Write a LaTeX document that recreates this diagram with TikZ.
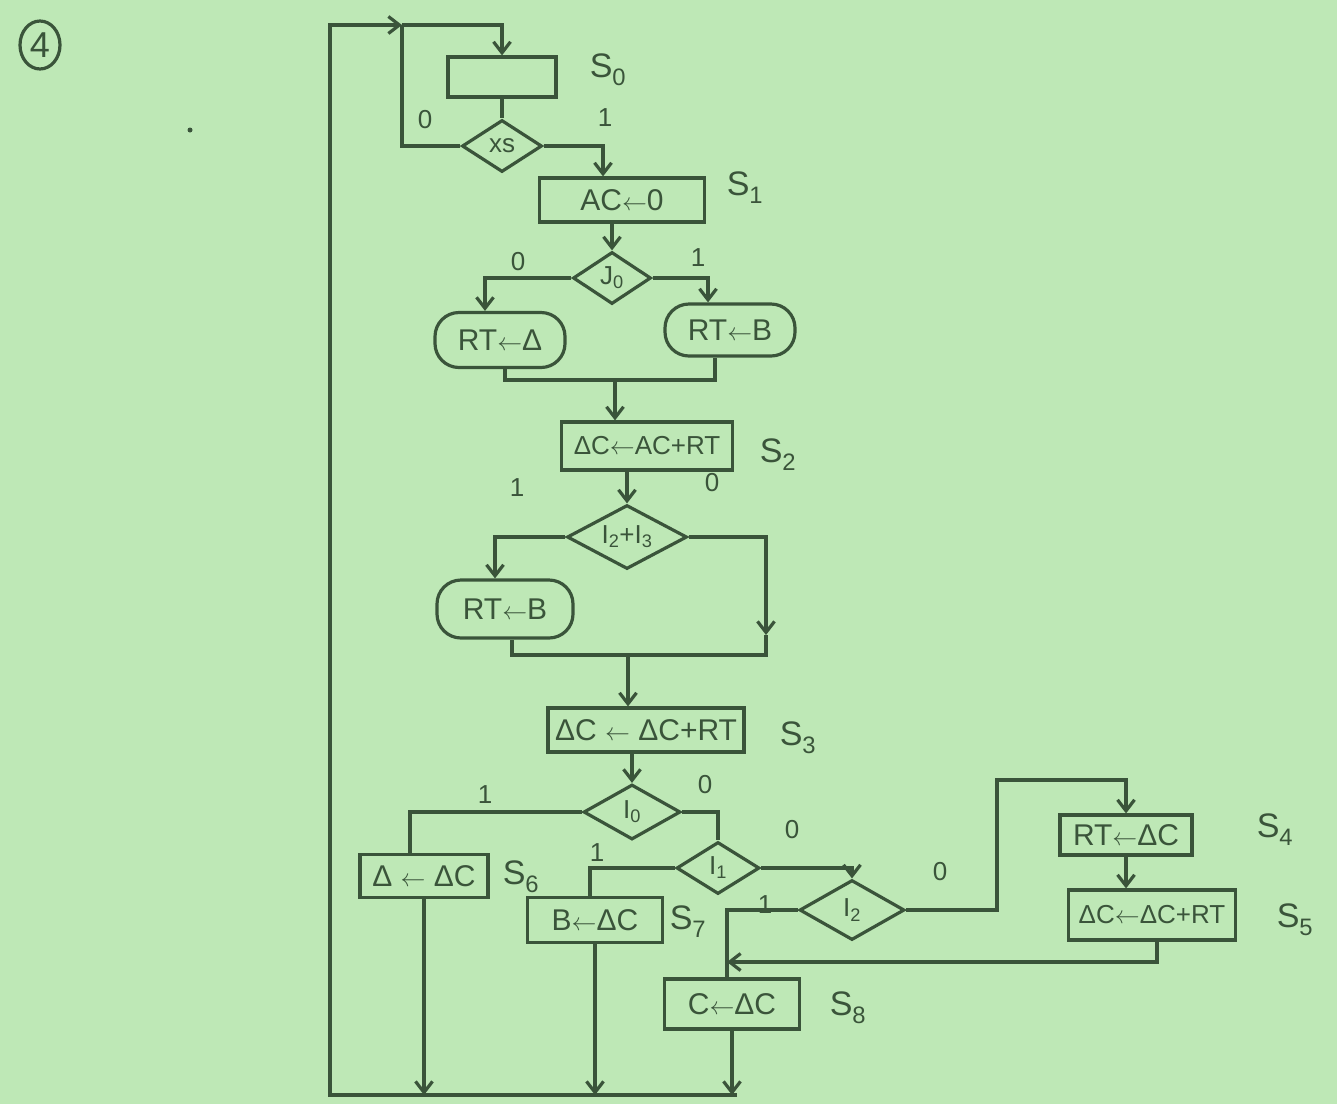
\documentclass[tikz,border=0pt]{standalone}
\usepackage{fontspec}
\setmainfont{Liberation Sans}
\usetikzlibrary{shapes.geometric,arrows.meta}
\definecolor{paper}{RGB}{190,232,182}
\definecolor{ink}{RGB}{58,84,58}
\newcommand{\asg}{$\leftarrow$}

\begin{document}
\begin{tikzpicture}[x=1pt,y=-1pt,color=ink,line width=3.2pt,
    >={Straight Barb[length=11pt,width=17pt]},
    every node/.style={font=\fontsize{30}{34}\selectfont},
    box/.style={draw,rectangle,inner sep=0pt},
    cond/.style={draw,diamond,inner sep=0pt,aspect=1.7,font=\fontsize{26}{30}\selectfont},
    oval/.style={draw,rectangle,rounded corners=24pt,inner sep=0pt},
    lbl/.style={font=\fontsize{26}{30}\selectfont},
    sname/.style={font=\fontsize{34}{38}\selectfont},
    tight/.style={font=\fontsize{26}{30}\selectfont}]
  \fill[paper] (0,0) rectangle (1337,1104);
  \useasboundingbox (0,0) rectangle (1337,1104);

  \node[draw,ellipse,minimum width=40,minimum height=48,inner sep=0pt,font=\fontsize{36}{40}\selectfont] (num) at (40,45) {4};
  \fill (190,130) circle (2.5);

  % states and conditions
  \node[box,minimum width=108,minimum height=40] (s0) at (502,77) {};
  \node[cond,minimum width=80,minimum height=52] (xs) at (502,146) {xs};
  \node[box,minimum width=165,minimum height=44] (s1) at (622,200) {AC\asg0};
  \node[cond,minimum width=78,minimum height=52] (j0) at (612,278) {J\textsubscript{0}};
  \node[oval,minimum width=130,minimum height=55] (rta) at (500,340) {RT\asg Δ};
  \node[oval,minimum width=130,minimum height=52] (rtb1) at (730,330) {RT\asg B};
  \node[box,tight,minimum width=171,minimum height=48] (s2) at (647,446) {ΔC\asg AC+RT};
  \node[cond,minimum width=120,minimum height=64] (i23) at (627,537) {I\textsubscript{2}+I\textsubscript{3}};
  \node[oval,minimum width=136,minimum height=58] (rtb2) at (505,609) {RT\asg B};
  \node[box,minimum width=196,minimum height=44] (s3) at (646,730) {ΔC \asg\ ΔC+RT};
  \node[cond,minimum width=97,minimum height=55] (i0) at (632,812) {I\textsubscript{0}};
  \node[box,minimum width=128,minimum height=43] (s6) at (424,876) {Δ \asg\ ΔC};
  \node[cond,minimum width=83,minimum height=52] (i1) at (718,868) {I\textsubscript{1}};
  \node[box,minimum width=135,minimum height=45] (s7) at (595,920) {B\asg ΔC};
  \node[cond,minimum width=105,minimum height=60] (i2) at (852,910) {I\textsubscript{2}};
  \node[box,minimum width=135,minimum height=50] (s8) at (732,1004) {C\asg ΔC};
  \node[box,minimum width=132,minimum height=40] (s4) at (1126,835) {RT\asg ΔC};
  \node[box,tight,minimum width=167,minimum height=50] (s5) at (1152,915) {ΔC\asg ΔC+RT};

  % state names
  \node[sname] (n0) at (608,70) {S\textsubscript{0}};
  \node[sname] (n1) at (745,188) {S\textsubscript{1}};
  \node[sname] (n2) at (778,455) {S\textsubscript{2}};
  \node[sname] (n3) at (798,738) {S\textsubscript{3}};
  \node[sname] (n6) at (521,877) {S\textsubscript{6}};
  \node[sname] (n7) at (688,922) {S\textsubscript{7}};
  \node[sname] (n8) at (848,1008) {S\textsubscript{8}};
  \node[sname] (n4) at (1275,830) {S\textsubscript{4}};
  \node[sname] (n5) at (1295,920) {S\textsubscript{5}};

  % branch values
  \node[lbl] (b1) at (425,120) {0};
  \node[lbl] (b2) at (605,118) {1};
  \node[lbl] (b3) at (518,262) {0};
  \node[lbl] (b4) at (698,258) {1};
  \node[lbl] (b5) at (517,488) {1};
  \node[lbl] (b6) at (712,483) {0};
  \node[lbl] (b7) at (485,795) {1};
  \node[lbl] (b8) at (705,785) {0};
  \node[lbl] (b9) at (597,853) {1};
  \node[lbl] (b10) at (792,830) {0};
  \node[lbl] (b11) at (765,905) {1};
  \node[lbl] (b12) at (940,872) {0};

  \coordinate (bot) at (737,1095);
  \coordinate (loopL) at (330,1095);
  \coordinate (top) at (402,25);
  \coordinate (m1) at (615,380);
  \coordinate (r23a) at (766,635);
  \coordinate (r23) at (766,655);
  \coordinate (m2) at (628,655);
  \coordinate (up) at (997,780);
  \coordinate (back) at (727,962);

  \draw[->] (bot) -- (loopL) |- (top);
  \draw[->] (top) -| (s0.north);
  \draw (s0.south) -- (xs.north);
  \draw (xs.west) -| (top);
  \draw[->] (xs.east) -| ([xshift=-19pt]s1.north);
  \draw[->] (s1.south -| j0.north) -- (j0.north);
  \draw[->] (j0.west) -| ([xshift=-15pt]rta.north);
  \draw[->] (j0.east) -| ([xshift=-22pt]rtb1.north);
  \draw ([xshift=5pt]rta.south) |- (m1) -| ([xshift=-15pt]rtb1.south);
  \draw[->] (m1) -- (m1 |- s2.north);
  \draw[->] (s2.south -| i23.north) -- (i23.north);
  \draw[->] (i23.west) -| ([xshift=-10pt]rtb2.north);
  \draw[->] (i23.east) -| (r23a);
  \draw (r23a) -- (r23) -| ([xshift=7pt]rtb2.south);
  \draw[->] (m2) -- (m2 |- s3.north);
  \draw[->] (s3.south -| i0.north) -- (i0.north);
  \draw (i0.west) -| ([xshift=-14pt]s6.north);
  \draw[->] (s6.south) -- (s6.south |- bot);
  \draw (i0.east) -| (i1.north);
  \draw (i1.west) -| ([xshift=-5pt]s7.north);
  \draw[->] (s7.south) -- (s7.south |- bot);
  \draw[->] (i1.east) -| (i2.north);
  \draw[->] (i2.east) -| (up) -| (s4.north);
  \draw[->] (s4.south) -- (s4.south |- s5.north);
  \draw[->] ([xshift=5pt]s5.south) |- (back);
  \draw (i2.west) -| (back) -- (back |- s8.north);
  \draw[->] (s8.south) -- (s8.south |- bot);
\end{tikzpicture}
\end{document}
